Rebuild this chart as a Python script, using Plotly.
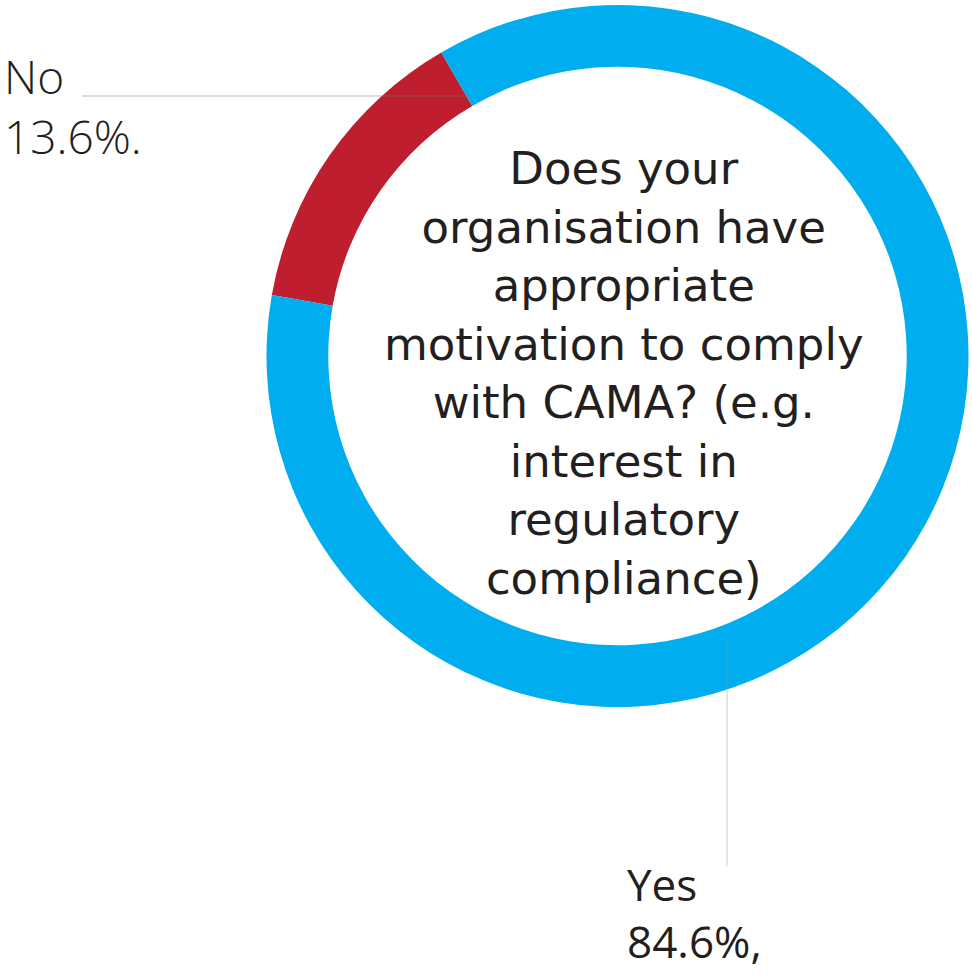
import plotly.graph_objects as go

W, H = 972, 977

# ---- data ----
labels = ["No", "Yes"]
values = [13.6, 84.6]
suffixes = [".", ","]
colors = ["#BE1E2D", "#00AEEF"]
question = ["Does your", "organisation have", "appropriate", "motivation to comply",
            "with CAMA? (e.g.", "interest in", "regulatory", "compliance)"]

def px(x):
    return x / W

def py(y):
    return 1 - y / H

fig = go.Figure()
fig.add_trace(go.Pie(
    labels=labels,
    values=values,
    sort=False,
    direction="clockwise",
    rotation=-80,
    hole=0.824,
    marker=dict(colors=colors, line=dict(width=0)),
    textinfo="none",
    hoverinfo="label+percent",
    domain=dict(x=[px(265), px(970)], y=[py(707), py(5)]),
    showlegend=False,
))

# center question
fig.add_annotation(
    x=px(624), y=py(373), xref="paper", yref="paper",
    text="<br>".join(question), showarrow=False,
    xanchor="center", yanchor="middle", align="center",
    font=dict(family="DejaVu Sans", size=45, color="#231F20"),
)

# outside labels
fig.add_annotation(
    x=px(2), y=py(106), xref="paper", yref="paper",
    text=f"{labels[0]}<br>{values[0]}%{suffixes[0]}", showarrow=False,
    xanchor="left", yanchor="middle", align="left",
    font=dict(family="Open Sans", size=46, color="#231F20", weight=300),
)
fig.add_annotation(
    x=px(625), y=py(912), xref="paper", yref="paper",
    text=f"{labels[1]}<br>{values[1]}%{suffixes[1]}", showarrow=False,
    xanchor="left", yanchor="middle", align="left",
    font=dict(family="Open Sans", size=44, color="#231F20"),
)

# leader lines
fig.add_shape(type="line", xref="paper", yref="paper",
              x0=px(82), x1=px(472), y0=py(96), y1=py(96),
              line=dict(color="rgba(120,120,120,0.5)", width=1))
fig.add_shape(type="line", xref="paper", yref="paper",
              x0=px(727), x1=px(727), y0=py(640), y1=py(866),
              line=dict(color="rgba(150,150,150,0.35)", width=1.5))

fig.update_layout(
    width=W, height=H,
    margin=dict(l=0, r=0, t=0, b=0),
    paper_bgcolor="white", plot_bgcolor="white",
)
fig.write_html("out.html")
